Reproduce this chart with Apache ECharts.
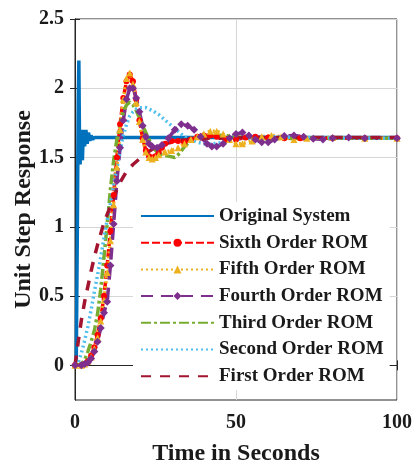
<!DOCTYPE html>
<html><head><meta charset="utf-8">
<script src="https://cdn.jsdelivr.net/npm/echarts@6/dist/echarts.min.js"></script>
<style>html,body{margin:0;padding:0;background:#fff}#c{width:414px;height:468px}</style>
</head><body><div id="c"></div>
<script>
const seriesNames = ['Original System','Sixth Order ROM','Fifth Order ROM','Fourth Order ROM','Third Order ROM','Second Order ROM','First Order ROM'];
const xTicks = [0, 50, 100];
const yTicks = [0, 0.5, 1, 1.5, 2, 2.5];

const tOrig = [0,0.4,0.7,1.0,1.2,1.4,1.6,1.8,2.0,2.3,2.6,3.0,3.4,3.8,4.2,4.6,5.0,5.5,6,8,100];
const yOrig = [0,0.05,0.9,1.9,2.2,1.6,1.45,1.7,1.6,1.48,1.7,1.58,1.7,1.6,1.68,1.62,1.66,1.63,1.645,1.645,1.645];

const tSixth = [0,2,3,4,5,6,7,8,9,10,11,12,13,14,15,16,17,18,19,20,21,22,23,24,25,26,27,28,30,32,34,36,38,40,42,44,47,50,53,56,60,65,70,80,90,100];
const ySixth = [0,0,0.01,0.03,0.07,0.13,0.22,0.34,0.5,0.72,0.97,1.23,1.5,1.74,1.93,2.05,2.1,2.05,1.92,1.77,1.64,1.55,1.51,1.5,1.51,1.54,1.57,1.6,1.62,1.62,1.61,1.63,1.65,1.66,1.66,1.65,1.63,1.63,1.645,1.65,1.645,1.64,1.64,1.64,1.64,1.64];

const tFifth = [0,2,3,4,5,6,7,8,9,10,11,12,13,14,15,16,17,18,19,20,21,22,23,24,25,26,28,30,32,34,36,38,40,42,44,46,48,50,52,55,58,61,64,68,72,80,90,100];
const yFifth = [0,0,0.01,0.03,0.06,0.12,0.2,0.32,0.47,0.67,0.9,1.16,1.43,1.7,1.92,2.07,2.11,2.03,1.9,1.76,1.63,1.54,1.5,1.49,1.5,1.52,1.54,1.55,1.57,1.6,1.63,1.65,1.67,1.69,1.69,1.67,1.63,1.6,1.6,1.62,1.65,1.66,1.65,1.63,1.64,1.645,1.64,1.64];

const tFourth = [0,2,3,4,5,6,7,8,9,10,11,12,13,14,15,16,17,18,19,20,21,22,23,24,25.5,27,29,31,33,35,37,39,41,42.5,44,46,48,50,52,54,56,58,60,62,65,68,71,74,77,80,85,90,100];
const yFourth = [0,0,0.01,0.02,0.05,0.1,0.17,0.27,0.38,0.46,0.72,1.02,1.33,1.57,1.77,1.92,2.0,2.0,1.93,1.83,1.73,1.65,1.6,1.58,1.57,1.59,1.64,1.7,1.74,1.73,1.7,1.65,1.6,1.58,1.58,1.6,1.64,1.67,1.68,1.66,1.63,1.61,1.61,1.63,1.655,1.66,1.65,1.635,1.63,1.64,1.645,1.64,1.64];

const tThird = [0,2,3,4,5,6,7,8,9,10,11,12,13,14,15,16,17,18,19,20,21,22,23,24,25.5,27,29,31,32.5,34,36,38,40,43,46,50,55,60,70,100];
const yThird = [0,0.01,0.04,0.1,0.17,0.25,0.37,0.55,0.78,1.02,1.27,1.48,1.63,1.74,1.83,1.88,1.9,1.88,1.84,1.79,1.73,1.68,1.63,1.58,1.54,1.52,1.51,1.5,1.53,1.58,1.62,1.645,1.66,1.665,1.66,1.65,1.64,1.635,1.64,1.64];

const tSecond = [0,1,2,3,4,5,6,7,8,9,10,11,12,13,14,15,16,17,18,19,20,22,24,26,28,30,32,34,36,38,40,43,46,50,55,60,70,80,100];
const ySecond = [0,0.02,0.09,0.18,0.28,0.4,0.53,0.65,0.78,0.92,1.05,1.17,1.3,1.42,1.55,1.66,1.74,1.8,1.83,1.85,1.86,1.86,1.84,1.81,1.77,1.73,1.69,1.65,1.63,1.61,1.6,1.6,1.61,1.63,1.645,1.65,1.645,1.64,1.64];

const tFirst = [0,1,2,3,4,5,6,7,8,9,10,11,12,13,14,15,16,18,20,22,24,26,28,30,33,36,40,50,60,100];
const yFirst = [0,0.17,0.33,0.46,0.57,0.68,0.78,0.87,0.95,1.03,1.09,1.15,1.21,1.27,1.32,1.36,1.4,1.45,1.49,1.53,1.56,1.58,1.6,1.61,1.625,1.632,1.638,1.642,1.645,1.645];

function pairs(t, y) { return t.map((v, i) => [v, y[i]]); }

const FONT = 'Liberation Serif';
const TXT = '#1a1a1a';
const GRIDC = '#d6d6d6';
const AX = '#262626';

const styles = [
  {color:'#0072BD', type:'solid', width:3.5, symbol:'none', size:0},
  {color:'#FF0000', type:[8,3], width:3.5, symbol:'circle', size:6},
  {color:'#EDB120', type:[2,3], width:3.5, symbol:'triangle', size:7},
  {color:'#7E2F8E', type:[12,8], width:3.5, symbol:'diamond', size:8},
  {color:'#77AC30', type:[10,3,3,3], width:3.5, symbol:'none', size:0},
  {color:'#4DBEEE', type:[2,3], width:3.5, symbol:'none', size:0},
  {color:'#A2142F', type:[10,9], width:3.5, symbol:'none', size:0}
];
const dataSets = [
  pairs(tOrig, yOrig), pairs(tSixth, ySixth), pairs(tFifth, yFifth), pairs(tFourth, yFourth),
  pairs(tThird, yThird), pairs(tSecond, ySecond), pairs(tFirst, yFirst)
];

const series = seriesNames.map((name, i) => ({
  name: name,
  type: 'line',
  data: dataSets[i],
  symbol: styles[i].symbol,
  symbolSize: styles[i].size,
  showSymbol: styles[i].symbol !== 'none',
  lineStyle: {color: styles[i].color, width: styles[i].width, type: styles[i].type},
  itemStyle: {color: styles[i].color, borderWidth: 0},
  emphasis: {disabled: true},
  animation: false
}));

const legendData = seriesNames.map((name, i) => (
  styles[i].symbol === 'none' ? {name: name, itemStyle: {opacity: 0}} : {name: name}
));

const chart = echarts.init(document.getElementById('c'), null, {renderer: 'canvas'});
chart.setOption({
  animation: false,
  backgroundColor: '#fff',
  grid: {left: 75, right: 17, top: 19, bottom: 68, show: true, borderColor: AX, borderWidth: 1, outerBoundsMode: 'none', containLabel: false},
  xAxis: [{
    type: 'value', min: 0, max: 100, interval: 50,
    name: 'Time in Seconds', nameLocation: 'middle', nameGap: 42, nameMoveOverlap: false,
    nameTextStyle: {fontFamily: FONT, fontWeight: 'bold', fontSize: 24, color: TXT},
    axisLine: {show: true, lineStyle: {color: AX, width: 1}},
    axisTick: {show: true, inside: true, length: 5, lineStyle: {color: AX}},
    axisLabel: {fontFamily: FONT, fontWeight: 'bold', fontSize: 20, color: TXT, margin: 13},
    splitLine: {show: true, lineStyle: {color: GRIDC, width: 1}}
  }, {
    type: 'value', min: 0, max: 100, interval: 50, position: 'top',
    axisLine: {show: true, lineStyle: {color: AX, width: 1}},
    axisTick: {show: true, inside: true, length: 5, lineStyle: {color: AX}},
    axisLabel: {show: false}, splitLine: {show: false}
  }],
  yAxis: [{
    type: 'value', min: -0.25, max: 2.5,
    name: 'Unit Step Response', nameLocation: 'middle', nameGap: 39, nameMoveOverlap: false,
    nameTextStyle: {fontFamily: FONT, fontWeight: 'bold', fontSize: 24, color: TXT},
    axisLine: {show: true, lineStyle: {color: AX, width: 1}},
    axisTick: {show: true, inside: true, length: 5, lineStyle: {color: AX}, customValues: yTicks},
    axisLabel: {fontFamily: FONT, fontWeight: 'bold', fontSize: 20, color: TXT, margin: 11, customValues: yTicks},
    splitLine: {show: true, lineStyle: {color: GRIDC, width: 1}}
  }, {
    type: 'value', min: -0.25, max: 2.5, position: 'right',
    axisLine: {show: true, lineStyle: {color: AX, width: 1}},
    axisTick: {show: true, inside: true, length: 5, lineStyle: {color: AX}, customValues: yTicks},
    axisLabel: {show: false, customValues: yTicks}, splitLine: {show: false}
  }],
  legend: {
    orient: 'vertical', left: 133, top: 202,
    backgroundColor: '#fff', padding: [4, 6, 4, 7],
    itemWidth: 73, itemHeight: 10, itemGap: 6.7,
    selectedMode: false,
    textStyle: {fontFamily: FONT, fontWeight: 'bold', fontSize: 19, color: TXT, lineHeight: 20},
    data: legendData
  },
  series: series
});
</script>
</body></html>
